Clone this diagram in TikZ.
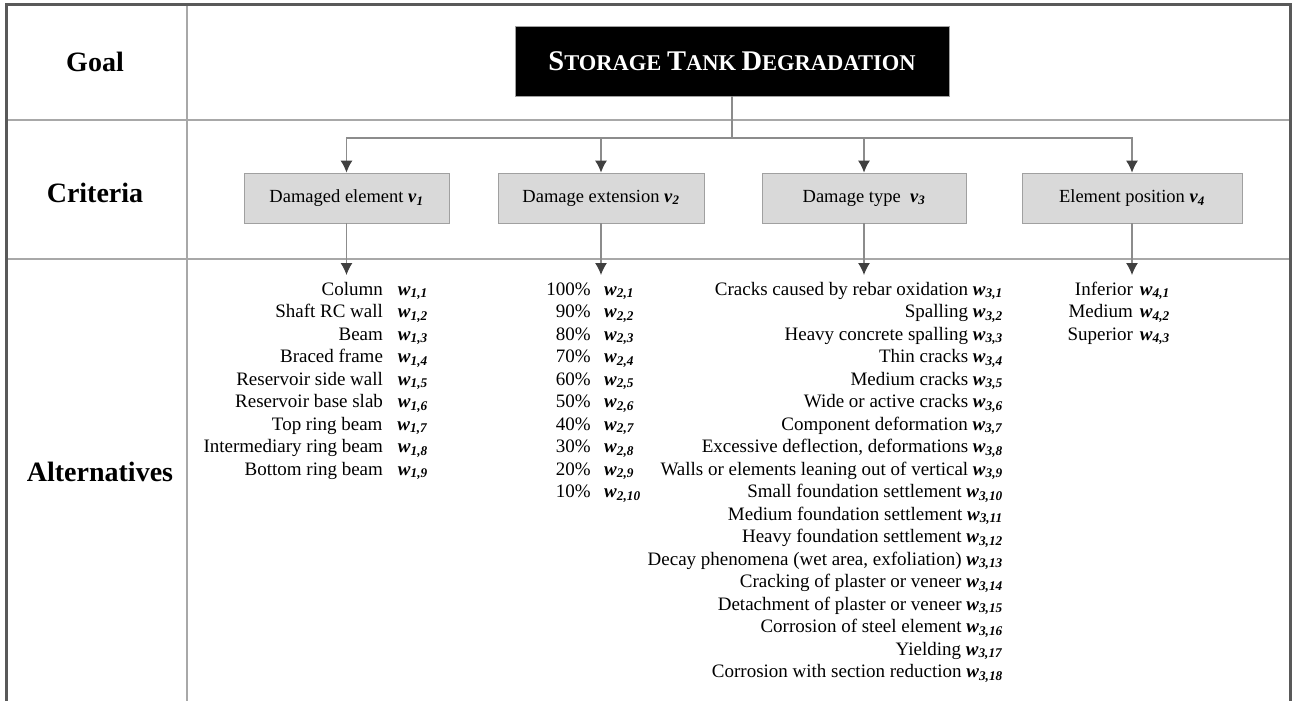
\documentclass[tikz,border=0pt]{standalone}
\usepackage{fontspec}
\setmainfont{Liberation Serif}
\usetikzlibrary{arrows.meta}
\definecolor{framegray}{HTML}{595959}
\definecolor{rulegray}{HTML}{A8A8A8}
\definecolor{boxgray}{HTML}{D9D9D9}
\definecolor{boxedge}{HTML}{A0A0A0}
\definecolor{linkgray}{HTML}{8C8C8C}
\definecolor{tipgray}{HTML}{404040}
\newcommand\wgt[2]{\textbf{\textit{w}}\textsubscript{\textbf{\textit{#1,#2}}}}
\newcommand\vcr[1]{\textbf{\textit{v}}\textsubscript{\textbf{\textit{#1}}}}
\newcommand\sck[2]{{\fontsize{28.5}{30}\selectfont #1}{\fontsize{22.5}{26}\selectfont #2}}
\begin{document}
\begin{tikzpicture}[
x=1pt,
y=-1pt,
frame/.style={
  draw=framegray,
  line width=3pt
  },
rule/.style={
  draw=rulegray,
  line width=2.5pt
  },
heading/.style={
  font=\fontsize{28}{32}\selectfont\bfseries
  },
goalbox/.style={
  fill=black,
  draw=boxedge,
  text=white,
  minimum width=434pt,
  minimum height=70pt,
  font=\fontsize{22.5}{26}\selectfont\bfseries
  },
critbox/.style={
  fill=boxgray,
  draw=boxedge,
  line width=0.8pt,
  minimum height=50pt,
  font=\fontsize{18.5}{22}\selectfont
  },
alt/.style={
  inner sep=0pt,
  font=\fontsize{19}{22}\selectfont
  },
link/.style={
  draw=linkgray,
  line width=1.2pt
  },
>={Latex[length=12pt,width=12pt,color=tipgray]}
]
\useasboundingbox (0,0) rectangle (1294,701);
\draw[rule] (6,120) -- (1290,120);
\draw[rule] (6,259) -- (1290,259);
\draw[rule] (187,5) -- (187,701);
\draw[frame] (6,701) -- (6,5) -- (1290,5) -- (1290,701);

\node[heading] (goallbl) at (95,62) {Goal};
\node[heading] (critlbl) at (95,193) {Criteria};
\node[heading] (altlbl) at (100,472) {Alternatives};

\node[goalbox] (goal) at (732,61) {\sck{S}{TORAGE} \sck{T}{ANK} \sck{D}{EGRADATION}};

\node[critbox, minimum width=205pt] (crit1) at (346.5,198) {Damaged element \vcr{1}};
\node[critbox, minimum width=206pt] (crit2) at (601,198) {Damage extension \vcr{2}};
\node[critbox, minimum width=204pt] (crit3) at (864,198) {Damage type\ \ \vcr{3}};
\node[critbox, minimum width=220pt] (crit4) at (1132,198) {Element position \vcr{4}};

\coordinate (bus) at (732,138);
\coordinate (tip) at (0,275);
\draw[link] (goal) -- (bus);
\foreach \c in {1,...,4}
{\draw[link,->] (bus) -| (crit\c);
 \draw[link,->] (crit\c) -- (crit\c |- tip);
}

\foreach \txt [count=\i] in {Column, Shaft RC wall, Beam, Braced frame, Reservoir side wall, Reservoir base slab, Top ring beam, Intermediary ring beam, Bottom ring beam}
  \node[alt, anchor=base east] (a1-\i) at (428,{295+22.5*(\i-1)}) {\txt\hspace{15pt}\wgt{1}{\i}};
\foreach \pc [count=\i] in {100,90,...,10}
{\node[alt, anchor=base east] (p2-\i) at (591,{295+22.5*(\i-1)}) {\pc\%};
 \node[alt, anchor=base west] (a2-\i) at (604,{295+22.5*(\i-1)}) {\wgt{2}{\i}};
}
\foreach \txt [count=\i] in {Cracks caused by rebar oxidation, Spalling, Heavy concrete spalling, Thin cracks, Medium cracks, Wide or active cracks, Component deformation, {Excessive deflection, deformations}, Walls or elements leaning out of vertical, Small foundation settlement, Medium foundation settlement, Heavy foundation settlement, {Decay phenomena (wet area, exfoliation)}, Cracking of plaster or veneer, Detachment of plaster or veneer, Corrosion of steel element, Yielding, Corrosion with section reduction}
  \node[alt, anchor=base east] (a3-\i) at (1003,{295+22.5*(\i-1)}) {\txt\ \wgt{3}{\i}};
\foreach \txt [count=\i] in {Inferior, Medium, Superior}
  \node[alt, anchor=base east] (a4-\i) at (1170,{295+22.5*(\i-1)}) {\txt\hspace{7pt}\wgt{4}{\i}};
\end{tikzpicture}
\end{document}
